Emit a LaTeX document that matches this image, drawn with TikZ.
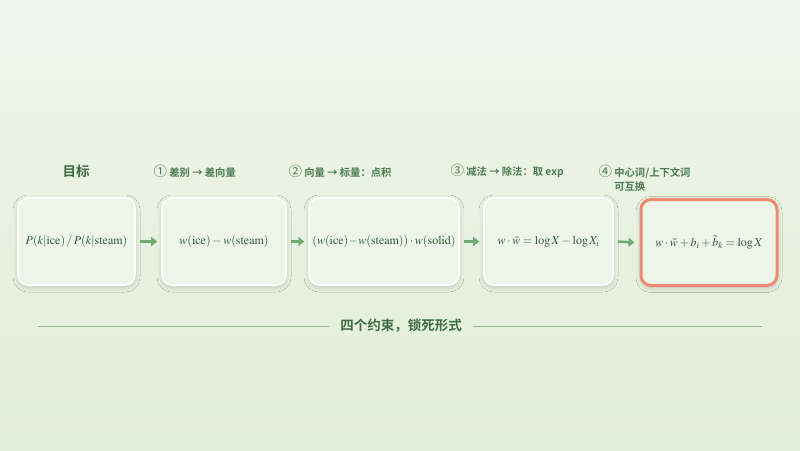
\documentclass[tikz,border=0pt]{standalone}
\usepackage{mathptmx}
\usepackage[no-math]{fontspec}
\newfontfamily\cjk{Noto Sans CJK SC}
\newfontfamily\cjkb{Noto Sans CJK SC Bold}
\usetikzlibrary{arrows.meta,shadows.blur}
\definecolor{bgtop}{HTML}{EFF5EB}
\definecolor{bgbot}{HTML}{E1EED8}
\definecolor{boxfill}{HTML}{EDF5E9}
\definecolor{mathc}{HTML}{2F5A35}
\definecolor{labc}{HTML}{4A7A4F}
\definecolor{titc}{HTML}{3E6C43}
\definecolor{arrc}{HTML}{6FAA6E}
\definecolor{redc}{HTML}{EE8A72}
\definecolor{linec}{HTML}{8DBB86}
\newcommand{\cnum}[1]{{\fontsize{13.5}{13}\selectfont\cjk #1}}
\tikzset{
  card/.style={draw=white, line width=1.6pt, fill=boxfill, rounded corners=10pt,
    blur shadow={shadow xshift=0pt, shadow yshift=-2pt, shadow blur steps=8, shadow opacity=18, shadow blur radius=5pt},
    text=mathc, font=\fontsize{12}{14}\selectfont},
  hotcard/.style={card, draw=redc, line width=3pt},
  lab/.style={text=labc, font=\cjkb\fontsize{10.3}{14}\selectfont, anchor=west, align=left},
  flow/.style={-{Triangle[length=6pt,width=9pt]}, line width=2.4pt, draw=arrc}
}
\begin{document}
\begin{tikzpicture}[x=1pt,y=-1pt]
\shade[top color=bgtop, bottom color=bgbot] (0,0) rectangle (800,450);
\useasboundingbox (0,0) rectangle (800,450);
\node[card, minimum width=117pt, minimum height=87pt] (b1) at (76.5,241.5) {$P(k|\mathrm{ice})\,/\,P(k|\mathrm{steam})$};
\node[card, minimum width=124pt, minimum height=87pt] (b2) at (224,241.5) {$w(\mathrm{ice})-w(\mathrm{steam})$};
\node[card, minimum width=148pt, minimum height=87pt] (b3) at (384,241.5) {$(w(\mathrm{ice})\!-\!w(\mathrm{steam}))\cdot w(\mathrm{solid})$};
\node[card, minimum width=129pt, minimum height=87pt] (b4) at (548.5,241.5) {$w\cdot\tilde w=\log X-\log X_i$};
\node[hotcard, minimum width=136pt, minimum height=86pt] (b5) at (709,242.5) {$w\cdot\tilde w+b_i+\tilde b_k=\log X$};
\draw[flow] (b1.east)++(4,0) -- ([xshift=-4pt]b2.west);
\draw[flow] (b2.east)++(4,0) -- ([xshift=-4pt]b3.west);
\draw[flow] (b3.east)++(4,0) -- ([xshift=-4pt]b4.west);
\draw[flow] (b4.east)++(4,0) -- ([xshift=-5pt]b5.west);
\node[text=titc, font=\cjkb\fontsize{13.5}{15}\selectfont] (t0) at (76,171) {目标};
\node[lab] (t1) at (150,171) {\cnum{①} 差别 → 差向量};
\node[lab] (t2) at (285,171) {\cnum{②} 向量 → 标量：点积};
\node[lab] (t3) at (447,171) {\cnum{③} 减法 → 除法：取 exp};
\node[lab, anchor=north west] (t4) at (595,162) {\cnum{④} 中心词/上下文词\\\phantom{\cnum{④} }可互换};
\node[text=titc, font=\cjkb\fontsize{13.5}{15}\selectfont] (bt) at (401,326) {四个约束，锁死形式};
\coordinate (l1) at (38,326);
\coordinate (l2) at (762,326);
\draw[linec, line width=0.9pt] (l1) -- ([xshift=-8pt]bt.west);
\draw[linec, line width=0.9pt] ([xshift=8pt]bt.east) -- (l2);
\end{tikzpicture}
\end{document}
